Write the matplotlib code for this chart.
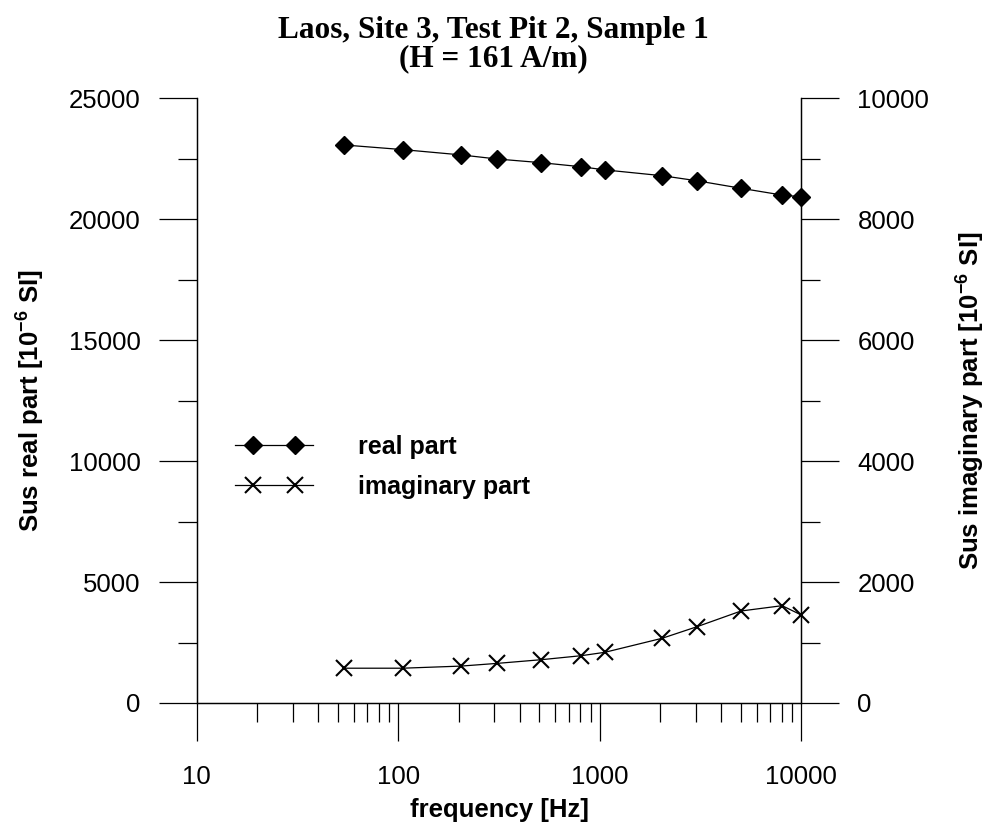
import numpy as np
import matplotlib
matplotlib.use("Agg")
import matplotlib.pyplot as plt
from matplotlib.lines import Line2D
from matplotlib.legend_handler import HandlerLine2D
from matplotlib.ticker import FixedLocator, FixedFormatter, NullFormatter

# data
freq = [54, 105, 205, 310, 510, 810, 1060, 2040, 3040, 5020, 8030, 10000]
real_part = [23070, 22880, 22660, 22490, 22340, 22170, 22040, 21800, 21590, 21280, 21000, 20930]
imag_part = [575, 575, 610, 655, 715, 782, 838, 1070, 1262, 1521, 1609, 1455]

x_major = [10, 100, 1000, 10000]
x_labels = ["10", "100", "1000", "10000"]
x_minor = [m * d for d in [10, 100, 1000] for m in range(2, 10)]


class FullLineHandler(HandlerLine2D):
    # line runs the whole handle length, markers sit inside it
    def create_artists(self, legend, orig_handle, xdescent, ydescent, width,
                       height, fontsize, trans):
        arts = super().create_artists(legend, orig_handle, xdescent, ydescent,
                                      width, height, fontsize, trans)
        ln = arts[0]
        x = np.asarray(ln.get_xdata())
        y = np.asarray(ln.get_ydata())
        ln.set_data(np.r_[-xdescent, x, width - xdescent], np.r_[y[0], y, y[0]])
        ln.set_markevery(list(range(1, len(x) + 1)))
        return arts


plt.rcParams['font.family'] = ['Liberation Sans', 'DejaVu Sans']
plt.rcParams['mathtext.fontset'] = 'custom'
plt.rcParams['mathtext.rm'] = 'Liberation Sans'
plt.rcParams['mathtext.bf'] = 'Liberation Sans:bold'

fig = plt.figure(figsize=(9.86, 8.22), dpi=100)
ax = fig.add_axes([0.1995, 0.1448, 0.6132, 0.7356])
ax2 = ax.twinx()

lw = 0.9
ax.plot(freq, real_part, color='black', lw=lw, marker='D', ms=9.5, mfc='black',
        mec='black', label='real part', zorder=3, clip_on=False)
ax2.plot(freq, imag_part, color='black', lw=lw, marker='x', ms=11, mew=1.5,
         label='imaginary part', zorder=3, clip_on=False)

ax.set_xscale('log')
ax.set_xlim(10, 10000)
ax.set_ylim(0, 25000)
ax2.set_ylim(0, 10000)

ax.xaxis.set_major_locator(FixedLocator(x_major))
ax.xaxis.set_major_formatter(FixedFormatter(x_labels))
ax.xaxis.set_minor_locator(FixedLocator(x_minor))
ax.xaxis.set_minor_formatter(NullFormatter())

ax.set_yticks(np.arange(0, 25001, 5000))
ax.set_yticks(np.arange(0, 25001, 2500), minor=True)
ax2.set_yticks(np.arange(0, 10001, 2000))
ax2.set_yticks(np.arange(0, 10001, 1000), minor=True)

for a in (ax, ax2):
    a.spines['top'].set_visible(False)
    for s in a.spines.values():
        s.set_linewidth(lw)

ax.tick_params(axis='x', which='major', direction='out', length=27.4, width=lw,
               labelsize=18.5, pad=17)
ax.tick_params(axis='x', which='minor', direction='out', length=13.7, width=lw)
ax.tick_params(axis='y', which='major', direction='out', length=27.4, width=lw,
               labelsize=18.5, pad=13)
ax.tick_params(axis='y', which='minor', direction='out', length=13.7, width=lw)
ax2.tick_params(axis='y', which='major', direction='out', length=27.4, width=lw,
                labelsize=18.5, pad=13)
ax2.tick_params(axis='y', which='minor', direction='out', length=13.7, width=lw)

ax.set_xlabel('frequency [Hz]', fontsize=18.5, fontweight='bold', labelpad=7)
ax.set_ylabel('Sus real part [10$^{\\mathbf{-6}}$ SI]', fontsize=18.5,
              fontweight='bold', labelpad=16)
ax2.set_ylabel('Sus imaginary part [10$^{\\mathbf{-6}}$ SI]', fontsize=18.5,
               fontweight='bold', labelpad=17, rotation=90)

fig.suptitle('Laos, Site 3, Test Pit 2, Sample 1\n(H = 161 A/m)',
             family='Liberation Serif', fontweight='bold', fontsize=22.5,
             y=0.981, linespacing=1.0)

h1, l1 = ax.get_legend_handles_labels()
h2, l2 = ax2.get_legend_handles_labels()
leg = ax2.legend(h1 + h2, l1 + l2, loc='upper left', bbox_to_anchor=(0.2261, 0.486),
                 bbox_transform=fig.transFigure, frameon=False, numpoints=2,
                 handlelength=3.1, handletextpad=1.8, labelspacing=0.62,
                 borderpad=0, prop={'weight': 'bold', 'size': 18},
                 handler_map={Line2D: FullLineHandler(marker_pad=0.72, numpoints=2)})

fig.savefig('out.png', dpi=100)
